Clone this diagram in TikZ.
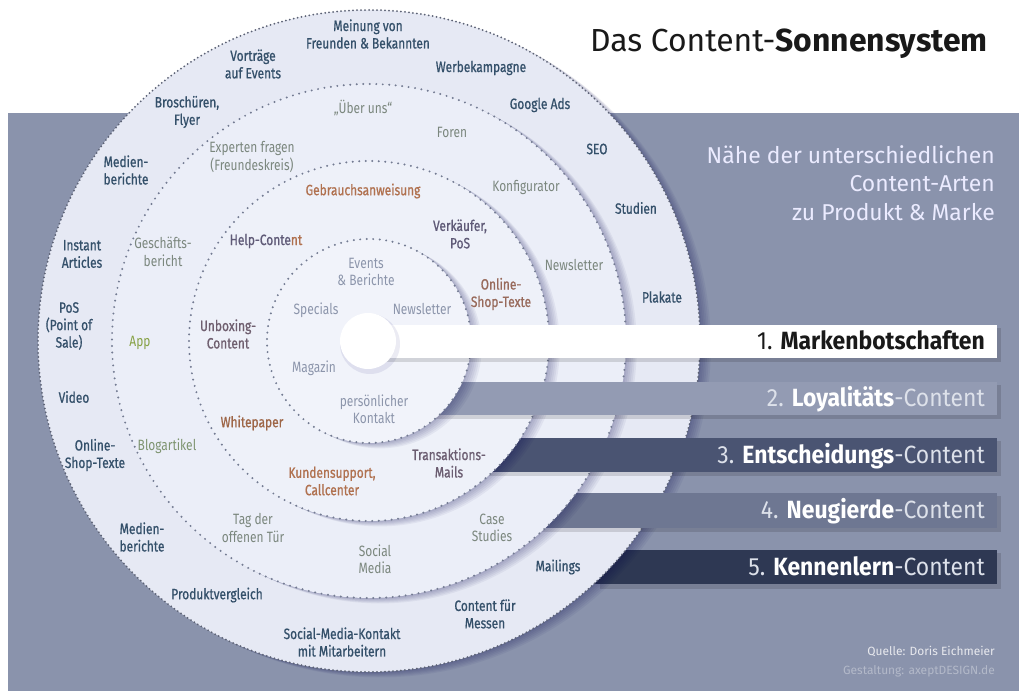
\documentclass[tikz,border=0pt]{standalone}
\usepackage{fontspec}
\setmainfont{Fira Sans}
\newfontfamily\lblfont[FakeStretch=0.8]{Fira Sans}
\newfontfamily\lblfontm[FakeStretch=0.8,FakeBold=0.8]{Fira Sans}
\newfontfamily\barfont[FakeStretch=0.92]{Fira Sans}
\definecolor{panel}{HTML}{8A93AC}
\definecolor{discA}{HTML}{E6E9F4}
\definecolor{discB}{HTML}{EBEEF8}
\definecolor{discC}{HTML}{EEF1F9}
\definecolor{discD}{HTML}{F1F3FA}
\definecolor{dotc}{HTML}{737B92}
\definecolor{ringv}{HTML}{34506A}
\definecolor{ringiv}{HTML}{7B877E}
\definecolor{ringiii}{HTML}{5F5A77}
\definecolor{ringiiio}{HTML}{B0714F}
\definecolor{ringii}{HTML}{8C95AB}
\definecolor{appg}{HTML}{86A144}
\definecolor{blogg}{HTML}{7E9470}
\definecolor{barii}{HTML}{939BB3}
\definecolor{bariii}{HTML}{4A5472}
\definecolor{bariv}{HTML}{6E7792}
\definecolor{barv}{HTML}{2E3853}
\definecolor{bartxt}{HTML}{DDE1EA}
\tikzset{
  lblv/.style={font=\lblfontm\fontsize{15}{17.5}\selectfont, text=ringv, align=center, inner sep=0pt},
  lbliv/.style={font=\lblfont\fontsize{15}{17.5}\selectfont, text=ringiv, align=center, inner sep=0pt},
  lbliii/.style={font=\lblfontm\fontsize{15}{17.5}\selectfont, text=ringiii, align=center, inner sep=0pt},
  lblii/.style={font=\lblfont\fontsize{15}{17.5}\selectfont, text=ringii, align=center, inner sep=0pt},
  barlbl/.style={font=\barfont\fontsize{25}{28}\selectfont, anchor=base east, inner sep=0pt},
  subt/.style={font=\fontsize{23}{27}\selectfont, anchor=base east, inner sep=0pt, text=white!92!blue},
  dotedge/.style={draw=dotc, line width=2.2bp, line cap=round, dash pattern=on 0bp off 6.5bp},
  perfedge/.style={draw=dotc!80!black, line width=2bp, line cap=round, dash pattern=on 0bp off 4bp},
  barshadow/.style={fill=black, opacity=0.13},
  discshadow/.style={fill=black!70!blue, opacity=0.05},
}
\begin{document}
\begin{tikzpicture}[x=1bp,y=-1bp]
\useasboundingbox (0,0) rectangle (1019,691);
\fill[white] (0,0) rectangle (1019,691);
\fill[panel] (8,113) rectangle (1019,691);
\coordinate (c) at (369,341);
% title
\node[font=\fontsize{32}{36}\selectfont, anchor=base east, inner sep=0pt, text=black!90] (title) at (988,52) {Das Content-\textbf{Sonnensystem}};
\node[subt] (sub1) at (995,164) {Nähe der unterschiedlichen};
\node[subt] (sub2) at (995,192) {Content-Arten};
\node[subt] (sub3) at (995,220) {zu Produkt \& Marke};
% bar 5
\fill[barshadow] (600,553) rectangle (1001,589);
\fill[barv] (590,550) rectangle (997,584);
% disc 5
\foreach \s in {2,4,6,8,10,12} \fill[discshadow] ([shift={(\s*0.9,\s*0.45)}]c) circle[radius=331bp];
\fill[discA] (c) circle[radius=331bp];
\draw[perfedge] (c) circle[radius=331bp];
% bar 4
\fill[barshadow] (520,496) rectangle (1001,532);
\fill[bariv] (510,493) rectangle (997,528);
% disc 4
\foreach \s in {2,4,6,8,10,12} \fill[discshadow] ([shift={(\s*0.9,\s*0.45)}]c) circle[radius=257bp];
\fill[discB] (c) circle[radius=257bp];
\draw[dotedge] (c) circle[radius=257bp];
% bar 3
\fill[barshadow] (460,441) rectangle (1001,476);
\fill[bariii] (450,438) rectangle (997,472);
% disc 3
\foreach \s in {2,4,6,8,10,12} \fill[discshadow] ([shift={(\s*0.9,\s*0.45)}]c) circle[radius=180bp];
\fill[discC] (c) circle[radius=180bp];
\draw[dotedge] (c) circle[radius=180bp];
% bar 2
\fill[barshadow] (420,385) rectangle (1001,419);
\fill[barii] (410,382) rectangle (997,415);
% disc 2
\foreach \s in {2,4,6,8,10,12} \fill[discshadow] ([shift={(\s*0.9,\s*0.45)}]c) circle[radius=102bp];
\fill[discD] (c) circle[radius=102bp];
\draw[dotedge] (c) circle[radius=102bp];
% bar 1 and sun
\fill[barshadow] (372,328) rectangle (1001,362);
\fill[white] (368,325) rectangle (997,358);
\fill[black!60!blue, opacity=0.08] (370,344) circle[radius=30bp];
\fill[white] (368,341) circle[radius=28bp];
% bar labels
\node[barlbl, text=black!90] (b1) at (985,349) {1. \textbf{Markenbotschaften}};
\node[barlbl, text=bartxt] (b2) at (985,406) {2. \textbf{\color{white}Loyalitäts}-Content};
\node[barlbl, text=bartxt] (b3) at (985,463) {3. \textbf{\color{white}Entscheidungs}-Content};
\node[barlbl, text=bartxt] (b4) at (985,518) {4. \textbf{\color{white}Neugierde}-Content};
\node[barlbl, text=bartxt] (b5) at (985,575) {5. \textbf{\color{white}Kennenlern}-Content};
% ring 5 labels
\node[lblv] (m1) at (368,34) {Meinung von\\Freunden \& Bekannten};
\node[lblv] (m2) at (253,64) {Vorträge\\auf Events};
\node[lblv] (m3) at (481,68) {Werbekampagne};
\node[lblv] (m4) at (187,112) {Broschüren,\\Flyer};
\node[lblv] (m5) at (540,105) {Google Ads};
\node[lblv] (m6) at (597,149) {SEO};
\node[lblv] (m7) at (126,170) {Medien-\\berichte};
\node[lblv] (m8) at (636,208) {Studien};
\node[lblv] (m9) at (82,254) {Instant\\Articles};
\node[lblv] (m10) at (662,297) {Plakate};
\node[lblv] (m11) at (69,326) {PoS\\(Point of\\Sale)};
\node[lblv] (m12) at (74,397) {Video};
\node[lblv] (m13) at (95,455) {Online-\\Shop-Texte};
\node[lblv] (m14) at (142,537) {Medien-\\berichte};
\node[lblv] (m15) at (558,567) {Mailings};
\node[lblv] (m16) at (217,595) {Produktvergleich};
\node[lblv] (m17) at (485,614) {Content für\\Messen};
\node[lblv] (m18) at (342,642) {Social-Media-Kontakt\\mit Mitarbeitern};
% ring 4 labels
\node[lbliv] (f1) at (363,108) {„Über uns“};
\node[lbliv] (f2) at (452,132) {Foren};
\node[lbliv] (f3) at (252,157) {Experten fragen\\(Freundeskreis)};
\node[lbliv] (f4) at (526,187) {Konfigurator};
\node[lbliv] (f5) at (163,252) {Geschäfts-\\bericht};
\node[lbliv] (f6) at (574,265) {Newsletter};
\node[lbliv, text=appg] (f7) at (140,343) {App};
\node[lbliv, text=blogg] (f8) at (167,446) {Blogartikel};
\node[lbliv] (f9) at (253,528) {Tag der\\offenen Tür};
\node[lbliv] (f10) at (375,559) {Social\\Media};
\node[lbliv] (f11) at (492,528) {Case\\Studies};
% ring 3 labels
\node[lbliii, text=ringiiio] (g1) at (363,191) {Gebrauchsanweisung};
\node[lbliii] (g2) at (460,234) {Verkäufer,\\PoS};
\node[lbliii] (g3) at (266,241) {Help-Conte\textcolor{ringiiio}{nt}};
\node[lbliii, text=ringiiio!70!ringiii] (g4) at (501,294) {Online-\\Shop-Texte};
\node[lbliii, text=ringiii!80!ringiiio] (g5) at (228,334) {Unboxing-\\Content};
\node[lbliii, text=ringiiio!90!black] (g6) at (252,423) {Whitepaper};
\node[lbliii, text=ringiiio] (g7) at (332,481) {Kundensupport,\\Callcenter};
\node[lbliii, text=ringiii!85!ringiiio] (g8) at (449,463) {Transaktions-\\Mails};
% ring 2 labels
\node[lblii] (h1) at (366,272) {Events\\\& Berichte};
\node[lblii] (h2) at (316,310) {Specials};
\node[lblii] (h3) at (422,309) {Newsletter};
\node[lblii] (h4) at (314,368) {Magazin};
\node[lblii] (h5) at (374,409) {persönlicher\\Kontakt};
% footer
\node[font=\fontsize{12}{14}\selectfont, anchor=base east, inner sep=0pt, text=white!80!panel] (q1) at (995,655) {Quelle: Doris Eichmeier};
\node[font=\fontsize{12}{14}\selectfont, anchor=base east, inner sep=0pt, text=white!35!panel] (q2) at (995,674) {Gestaltung: axeptDESIGN.de};
\end{tikzpicture}
\end{document}
